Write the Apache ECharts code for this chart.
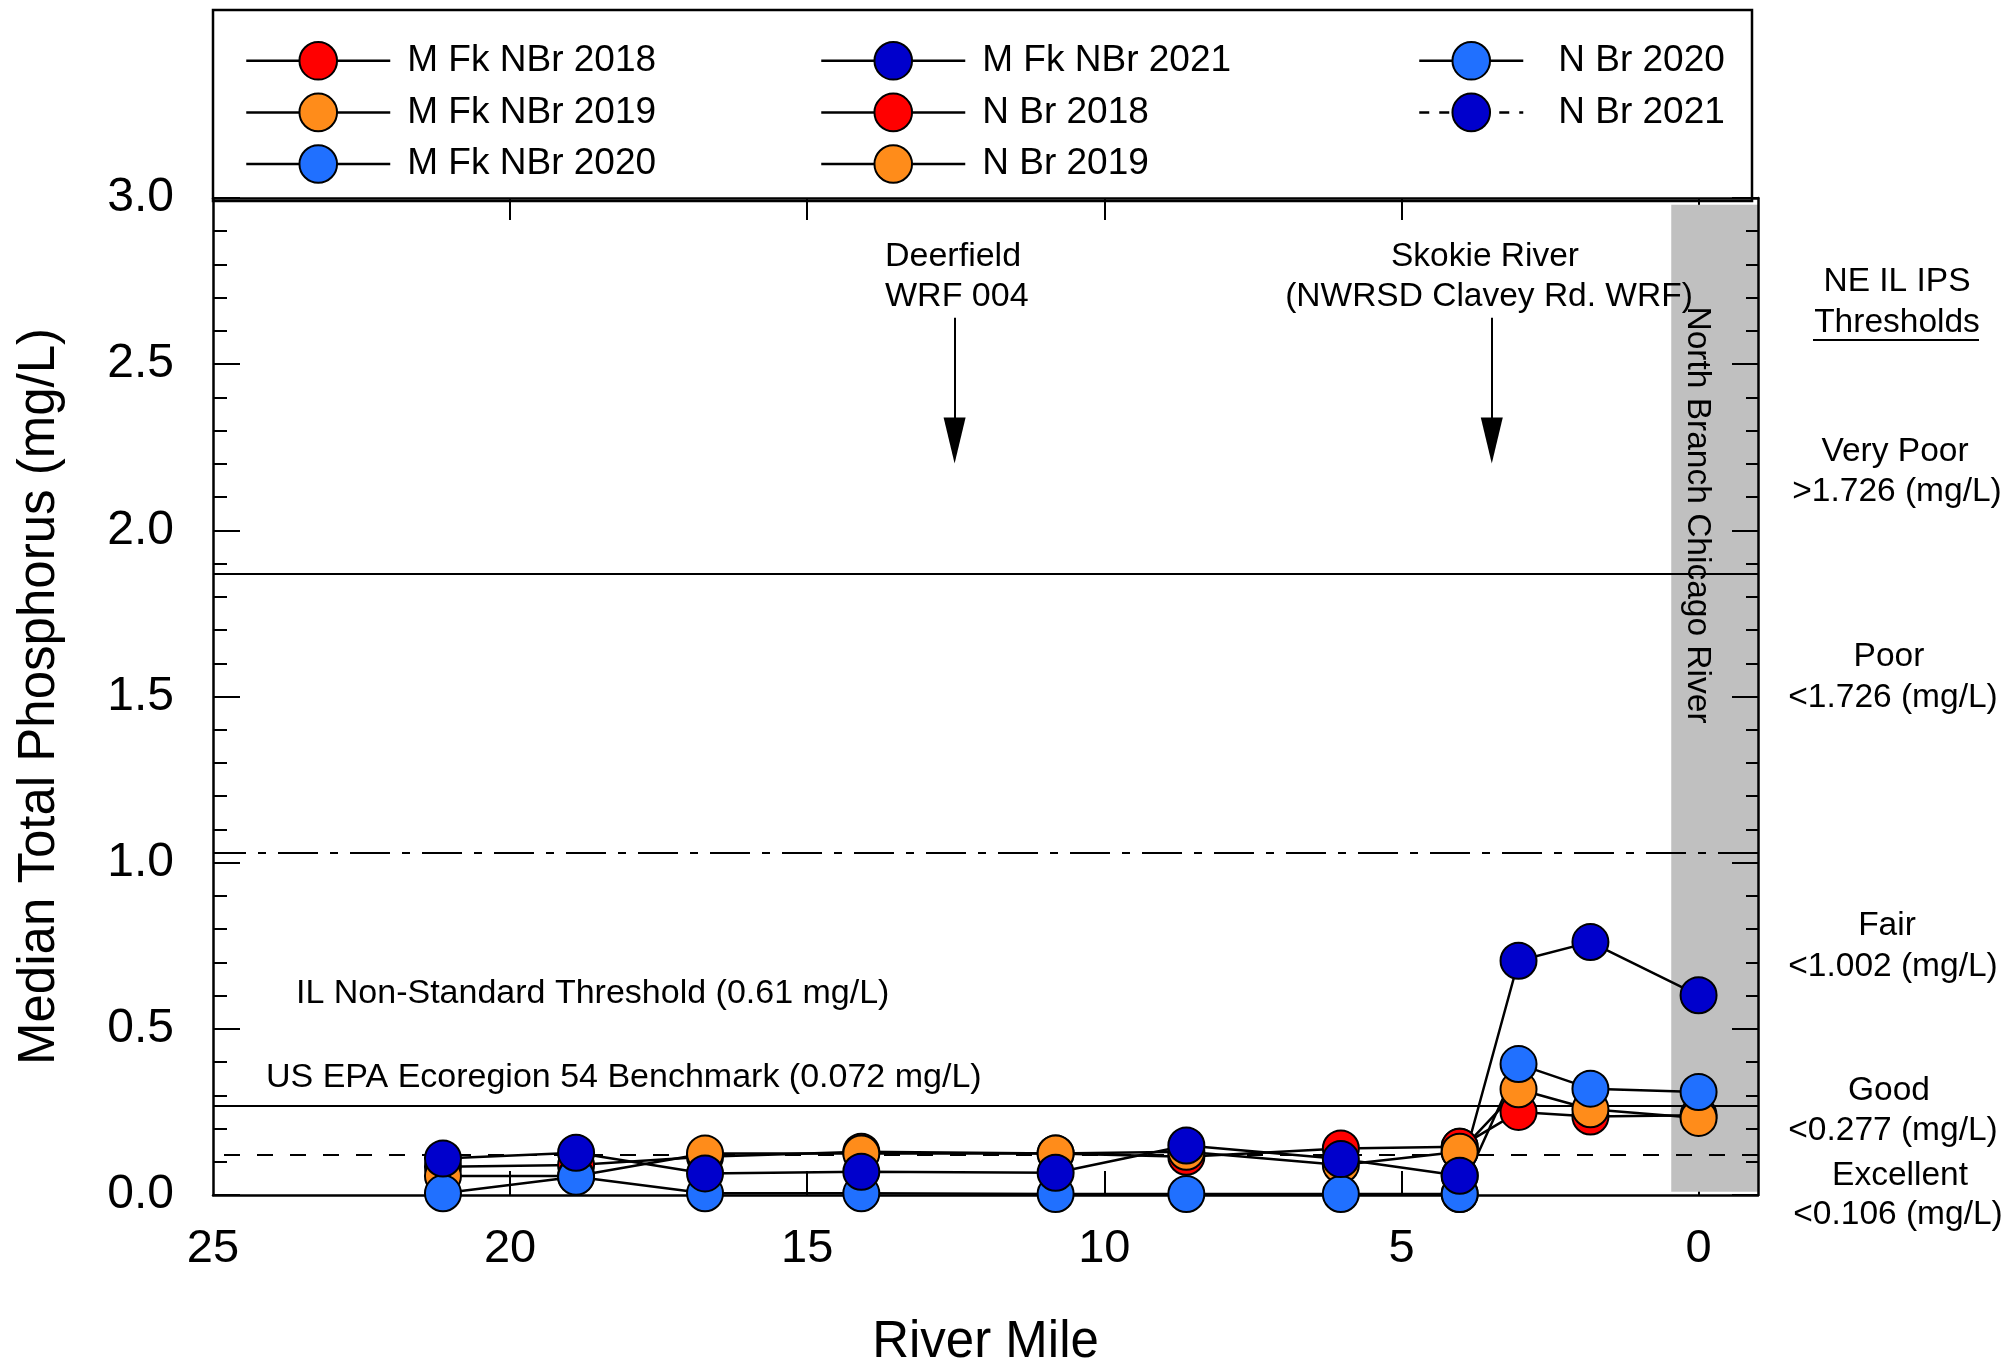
<!DOCTYPE html>
<html>
<head>
<meta charset="utf-8">
<title>Median Total Phosphorus</title>
<script src="https://cdn.jsdelivr.net/npm/echarts@6/dist/echarts.min.js"></script>
<style>
    html, body { margin: 0; padding: 0; background: #fff; }
    #chart { width: 2008px; height: 1360px; }
</style>
</head>
<body>
<div id="chart"></div>
<script>
// river mile of each sampling site
const mfkMiles = [21.13, 18.89, 16.72, 14.09, 10.82, 8.62, 6.02, 4.02]
const nbrMiles = [4.02, 3.03, 1.82, 0]

// median total phosphorus (mg/L)
const mfk2018 = [0.085, 0.09, 0.115, 0.13, 0.125, 0.115, 0.14, 0.145]
const mfk2019 = [0.057, 0.057, 0.125, 0.125, 0.125, 0.13, 0.09, 0.13]
const mfk2020 = [0.005, 0.055, 0.005, 0.005, 0.003, 0.003, 0.003, 0.003]
const mfk2021 = [0.11, 0.127, 0.065, 0.07, 0.067, 0.149, 0.108, 0.058]
const nbr2018 = [0.145, 0.25, 0.236, 0.24]
const nbr2019 = [0.13, 0.318, 0.258, 0.232]
const nbr2020 = [0.003, 0.394, 0.32, 0.31]
const nbr2021 = [0.058, 0.705, 0.761, 0.601]

// reference lines drawn on the plot
const refSolidHigh = 1.873
const refDashDot = 1.03
const refSolidLow = 0.266
const refDashed = 0.115

// outfall arrows (river mile)
const deerfieldMile = 12.52
const skokieMile = 3.48

// axis ticks
const xTickValues = [0, 5, 10, 15, 20]
const xLabelValues = [0, 5, 10, 15, 20, 25]

const RED = '#ff0000'
const ORANGE = '#ff8c1a'
const LIGHTBLUE = '#2070ff'
const DARKBLUE = '#0000cc'
const FONT = '"Liberation Sans", Arial, sans-serif'

const seriesDefs = [
    { name: 'M Fk NBr 2018', miles: mfkMiles, values: mfk2018, color: RED },
    { name: 'M Fk NBr 2019', miles: mfkMiles, values: mfk2019, color: ORANGE },
    { name: 'M Fk NBr 2020', miles: mfkMiles, values: mfk2020, color: LIGHTBLUE },
    { name: 'M Fk NBr 2021', miles: mfkMiles, values: mfk2021, color: DARKBLUE },
    { name: 'N Br 2018', miles: nbrMiles, values: nbr2018, color: RED },
    { name: 'N Br 2019', miles: nbrMiles, values: nbr2019, color: ORANGE },
    { name: 'N Br 2020', miles: nbrMiles, values: nbr2020, color: LIGHTBLUE },
    { name: 'N Br 2021', miles: nbrMiles, values: nbr2021, color: DARKBLUE }
]

const series = seriesDefs.map(s => ({
    name: s.name,
    type: 'line',
    data: s.miles.map((m, i) => [m, s.values[i]]),
    symbol: 'circle',
    symbolSize: 36,
    z: 3,
    lineStyle: { color: '#000', width: 2.5 },
    itemStyle: { color: s.color, borderColor: '#000', borderWidth: 2 }
}))

// reference lines, arrows and the grey North Branch band hang off the first series
series[0].markLine = {
    silent: true,
    z: 2,
    symbol: ['none', 'none'],
    label: { show: false },
    lineStyle: { color: '#000', width: 2, type: 'solid' },
    data: [
        { yAxis: refSolidHigh },
        { yAxis: refDashDot, lineStyle: { type: [40, 12, 8, 12] } },
        { yAxis: refSolidLow },
        { yAxis: refDashed, lineStyle: { type: [16, 17] } },
        [
            { coord: [deerfieldMile, 2.64], symbol: 'none' },
            { coord: [deerfieldMile, 2.27], symbol: 'triangle', symbolSize: [22, 46] }
        ],
        [
            { coord: [skokieMile, 2.64], symbol: 'none' },
            { coord: [skokieMile, 2.27], symbol: 'triangle', symbolSize: [22, 46] }
        ]
    ]
}
series[0].markArea = {
    silent: true,
    z: 1,
    itemStyle: { color: '#c0c0c0' },
    data: [[{ xAxis: 0.46, yAxis: 0.01 }, { xAxis: -1, yAxis: 2.98 }]]
}

function txt(text, x, y, extra, size) {
    return Object.assign({
        type: 'text', x: x, y: y, z: 10,
        style: {
            text: text, fill: '#000', fontSize: size || 33.5, fontFamily: FONT,
            textAlign: 'center', align: 'center',
            textVerticalAlign: 'middle', verticalAlign: 'middle'
        }
    }, extra || {})
}
function txtLeft(text, x, y) {
    const t = txt(text, x, y, null, 34)
    t.style.textAlign = 'left'
    t.style.align = 'left'
    return t
}

const legendBase = {
    orient: 'vertical',
    top: 41,
    padding: 0,
    itemGap: 12,
    itemWidth: 144,
    itemHeight: 47,
    z: 6,
    itemStyle: { borderColor: '#000', borderWidth: 2 },
    lineStyle: { color: '#000', width: 2.5 },
    textStyle: { fontSize: 37, fontFamily: FONT, color: '#000', padding: [0, 0, 0, 12] }
}

const chart = echarts.init(document.getElementById('chart'))
chart.setOption({
    animation: false,
    backgroundColor: '#fff',
    textStyle: { fontFamily: FONT },
    legend: [
        Object.assign({}, legendBase, {
            left: 245,
            data: ['M Fk NBr 2018', 'M Fk NBr 2019', 'M Fk NBr 2020']
        }),
        Object.assign({}, legendBase, {
            left: 820,
            data: ['M Fk NBr 2021', 'N Br 2018', 'N Br 2019']
        }),
        Object.assign({}, legendBase, {
            left: 1418,
            itemWidth: 104,
            textStyle: Object.assign({}, legendBase.textStyle, { padding: [0, 0, 0, 30] }),
            data: ['N Br 2020', { name: 'N Br 2021', lineStyle: { type: [10, 10] } }]
        })
    ],
    grid: { left: 213, right: 250, top: 198, bottom: 165, containLabel: false, outerBoundsMode: 'none' },
    xAxis: [
        {
            type: 'value',
            inverse: true,
            min: -1,
            max: 25,
            name: 'River Mile',
            nameLocation: 'middle',
            nameGap: 122,
            nameTextStyle: { fontSize: 51, color: '#000', fontFamily: FONT },
            axisLine: { onZero: false, lineStyle: { color: '#000', width: 2.5 } },
            axisTick: { inside: true, length: 24, customValues: xTickValues, lineStyle: { color: '#000', width: 2 } },
            axisLabel: { customValues: xLabelValues, fontSize: 47, color: '#000', margin: 31 },
            splitLine: { show: false }
        },
        {
            type: 'value',
            position: 'top',
            inverse: true,
            min: -1,
            max: 25,
            axisLine: { onZero: false, lineStyle: { color: '#000', width: 2.5 } },
            axisTick: { inside: true, length: 22, customValues: xTickValues, lineStyle: { color: '#000', width: 2 } },
            axisLabel: { show: false },
            splitLine: { show: false }
        }
    ],
    yAxis: [
        {
            type: 'value',
            min: 0,
            max: 3,
            interval: 0.5,
            name: 'Median Total Phosphorus (mg/L)',
            nameLocation: 'middle',
            nameGap: 148,
            nameTextStyle: { fontSize: 51, color: '#000', fontFamily: FONT },
            axisLine: { show: true, onZero: false, lineStyle: { color: '#000', width: 2.5 } },
            axisTick: { show: true, inside: true, length: 27, lineStyle: { color: '#000', width: 2 } },
            minorTick: { show: true, splitNumber: 5, length: 14, lineStyle: { color: '#000', width: 2 } },
            axisLabel: { fontSize: 48, color: '#000', margin: 39, formatter: v => v.toFixed(1) },
            splitLine: { show: false }
        },
        {
            type: 'value',
            position: 'right',
            min: 0,
            max: 3,
            interval: 0.5,
            z: 4,
            axisLine: { show: true, onZero: false, lineStyle: { color: '#000', width: 2.5 } },
            axisTick: { show: true, inside: true, length: 26, lineStyle: { color: '#000', width: 2 } },
            minorTick: { show: true, splitNumber: 5, length: 12, lineStyle: { color: '#000', width: 2 } },
            axisLabel: { show: false },
            splitLine: { show: false }
        }
    ],
    graphic: [
        // legend box
        {
            type: 'rect', z: 0,
            shape: { x: 213, y: 10, width: 1539, height: 191 },
            style: { fill: '#fff', stroke: '#000', lineWidth: 2.5 }
        },
        txtLeft('Deerfield', 885, 257),
        txtLeft('WRF 004', 885, 297),
        txt('Skokie River', 1485, 257),
        txt('(NWRSD Clavey Rd. WRF)', 1489, 297),
        txtLeft('IL Non-Standard Threshold (0.61 mg/L)', 296, 994),
        txtLeft('US EPA Ecoregion 54 Benchmark (0.072 mg/L)', 266, 1078),
        txt('North Branch Chicago River', 1697, 515, { rotation: -Math.PI / 2 }),
        // NE IL IPS thresholds, outside the plot
        txt('NE IL IPS', 1897, 282),
        txt('Thresholds', 1897, 323),
        {
            type: 'line', z: 10,
            shape: { x1: 1813, y1: 340, x2: 1979, y2: 340 },
            style: { stroke: '#000', lineWidth: 2 }
        },
        txt('Very Poor', 1895, 452),
        txt('>1.726 (mg/L)', 1897, 492),
        txt('Poor', 1889, 657),
        txt('<1.726 (mg/L)', 1893, 698),
        txt('Fair', 1887, 926),
        txt('<1.002 (mg/L)', 1893, 967),
        txt('Good', 1889, 1091),
        txt('<0.277 (mg/L)', 1893, 1131),
        txt('Excellent', 1900, 1176),
        txt('<0.106 (mg/L)', 1898, 1215)
    ],
    series: series
})

window.addEventListener('resize', () => {
    chart.resize()
})
</script>
</body>
</html>
